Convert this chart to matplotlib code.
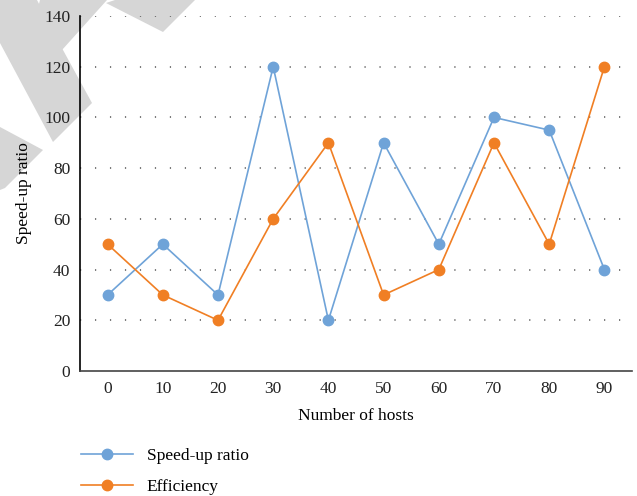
import numpy as np
import matplotlib
matplotlib.use("Agg")
import matplotlib.pyplot as plt
from matplotlib.patches import Polygon
from matplotlib.lines import Line2D

hosts = ["0", "10", "20", "30", "40", "50", "60", "70", "80", "90"]
speedup = [30, 50, 30, 120, 20, 90, 50, 100, 95, 40]
efficiency = [50, 30, 20, 60, 90, 30, 40, 90, 50, 120]
y_ticks = [0, 20, 40, 60, 80, 100, 120, 140]

blue = "#6fa3d8"
orange = "#f07f24"

W, H = 637, 496
plt.rcParams['font.family'] = ['Liberation Serif', 'DejaVu Serif']

fig = plt.figure(figsize=(W / 100, H / 100), dpi=100)
ax = fig.add_axes([80 / W, 1 - 371 / H, 552 / W, 355 / H])
ax.patch.set_facecolor("none")

# grey watermark pieces in the top-left corner (pixel coords)
shapes = [
    [(0, 0), (37, 0), (63, 50), (92, 103), (53, 142), (0, 43)],
    [(40, 0), (107, 0), (62, 50), (30, 40)],
    [(115, 0), (195, 0), (163, 32), (106, 3)],
    [(0, 127), (43, 150), (5, 188), (0, 190)],
]
for pts in shapes:
    fig.patches.append(Polygon([(x / W, 1 - y / H) for x, y in pts], closed=True,
                               transform=fig.transFigure, facecolor="#d6d6d6",
                               edgecolor="none", zorder=-5))

x = np.arange(len(hosts))
ax.plot(x, speedup, color=blue, lw=1.2, marker="o", ms=7.5, label="Speed-up ratio", zorder=3)
ax.plot(x, efficiency, color=orange, lw=1.2, marker="o", ms=7.5, label="Efficiency", zorder=3)

ax.set_xlim(-0.5, len(hosts) - 0.5)
ax.set_ylim(0, 140)
ax.set_xticks(x)
ax.set_xticklabels(hosts)
ax.set_yticks(y_ticks)
for yv in y_ticks[1:]:
    ax.axhline(yv, color="#555555", lw=1.1, ls=(0, (0.8, 9)), zorder=1)

ax.tick_params(axis="both", length=0, labelsize=12.5, colors="#222222")
ax.tick_params(axis="y", pad=7)
ax.tick_params(axis="x", pad=7)
for s in ["top", "right"]:
    ax.spines[s].set_visible(False)
ax.spines["left"].set_color("black")
ax.spines["left"].set_linewidth(1.2)
ax.spines["bottom"].set_color("#444444")
ax.spines["bottom"].set_linewidth(1.2)

ax.set_xlabel("Number of hosts", fontsize=12.5, labelpad=8)
ax.set_ylabel("Speed-up ratio", fontsize=12.5, labelpad=9)

handles = [Line2D([], [], color=blue, lw=1.2, marker="o", ms=7.5),
           Line2D([], [], color=orange, lw=1.2, marker="o", ms=7.5)]
fig.legend(handles, ["Speed-up ratio", "Efficiency"], loc="upper left",
           bbox_to_anchor=(74 / W, 1 - 441 / H), frameon=False, fontsize=12.5,
           handlelength=3.0, handletextpad=0.8, labelspacing=0.85,
           borderaxespad=0, borderpad=0.4)

fig.savefig("out.png", dpi=100)
